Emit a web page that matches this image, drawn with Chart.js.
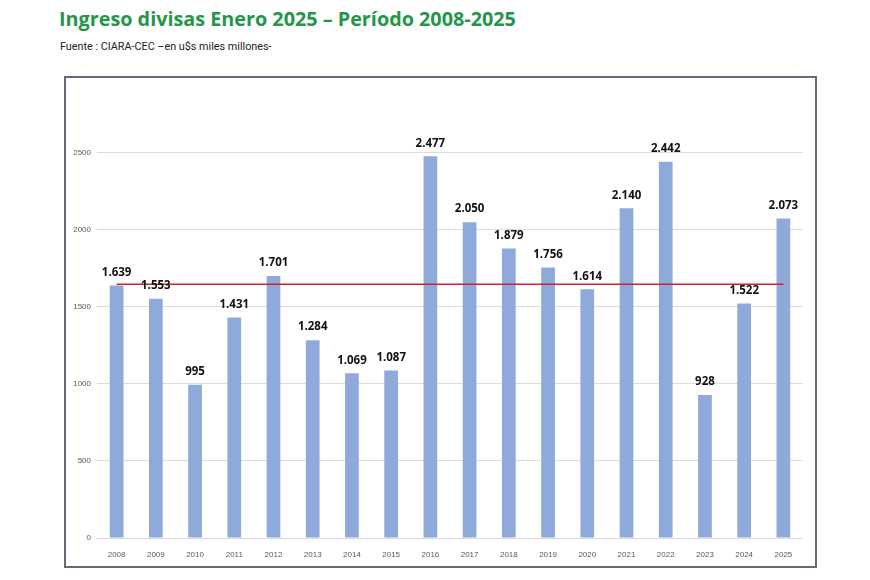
<!DOCTYPE html>
<html>
<head>
<meta charset="utf-8">
<script src="https://cdn.jsdelivr.net/npm/chart.js@4.4.1/dist/chart.umd.min.js"></script>
<style>
  body { margin: 0; background: #fff; width: 870px; height: 580px; position: relative; overflow: hidden; }
  #title { position: absolute; left: 59px; top: 5px; font-family: 'Open Sans', sans-serif; font-weight: 700; font-size: 19.8px; color: #23964a; white-space: nowrap; }
  #subtitle { position: absolute; left: 60px; top: 40px; font-family: 'Roboto', sans-serif; font-size: 10.8px; color: #222; white-space: nowrap; }
  #box { position: absolute; left: 64px; top: 76px; width: 749px; height: 488px; border: 2px solid #646b78; }
</style>
</head>
<body>
<div id="title">Ingreso divisas Enero 2025 – Período 2008-2025</div>
<div id="subtitle">Fuente : CIARA-CEC –en u$s miles millones-</div>
<div id="box"><canvas id="chart" width="749" height="488"></canvas></div>
<script>
const years = ['2008', '2009', '2010', '2011', '2012', '2013', '2014', '2015', '2016',
               '2017', '2018', '2019', '2020', '2021', '2022', '2023', '2024', '2025'];
const ingreso = [1639, 1553, 995, 1431, 1701, 1284, 1069, 1087, 2477,
                 2050, 1879, 1756, 1614, 2140, 2442, 928, 1522, 2073];
const promedio = [1647, 1647, 1647, 1647, 1647, 1647, 1647, 1647, 1647,
                  1647, 1647, 1647, 1647, 1647, 1647, 1647, 1647, 1647];
const yTicks = [0, 500, 1000, 1500, 2000, 2500];

const fmt = v => v.toLocaleString('de-DE');

// labels on top of the bars
const barLabels = {
    id: 'barLabels',
    afterDatasetsDraw(chart) {
        const ctx = chart.ctx;
        const meta = chart.getDatasetMeta(1);
        ctx.save();
        ctx.font = "700 11.5px 'Open Sans', sans-serif";
        ctx.fillStyle = '#111';
        ctx.textAlign = 'center';
        ctx.textBaseline = 'middle';
        meta.data.forEach((bar, i) => {
            ctx.fillText(fmt(ingreso[i]), bar.x, bar.y - 13);
        });
        ctx.restore();
    }
};

new Chart(document.getElementById('chart'), {
    data: {
        labels: years,
        datasets: [
            {
                type: 'line',
                data: promedio,
                borderColor: '#c82828',
                borderWidth: 1.3,
                pointRadius: 0,
                order: 0
            },
            {
                type: 'bar',
                data: ingreso,
                backgroundColor: '#8eaadb',
                barPercentage: 0.7,
                categoryPercentage: 0.5,
                order: 1
            }
        ]
    },
    options: {
        responsive: false,
        animation: false,
        layout: { padding: { top: 44, right: 12, left: 0, bottom: 0 } },
        plugins: { legend: { display: false }, tooltip: { enabled: false } },
        scales: {
            x: {
                grid: { display: false },
                border: { display: false },
                ticks: { color: '#595959', font: { family: 'Liberation Sans', size: 8 }, padding: 4, maxRotation: 0 },
                afterFit: s => { s.height = 28; }
            },
            y: {
                min: 0,
                max: 2700,
                grid: { color: '#dcdcdc', drawTicks: false },
                border: { display: false },
                ticks: { color: '#595959', font: { family: 'Liberation Sans', size: 8 }, padding: 6, callback: v => String(v) },
                afterBuildTicks: s => { s.ticks = yTicks.map(v => ({ value: v })); },
                afterFit: s => { s.width = 31; }
            }
        }
    },
    plugins: [barLabels]
});
</script>
</body>
</html>
